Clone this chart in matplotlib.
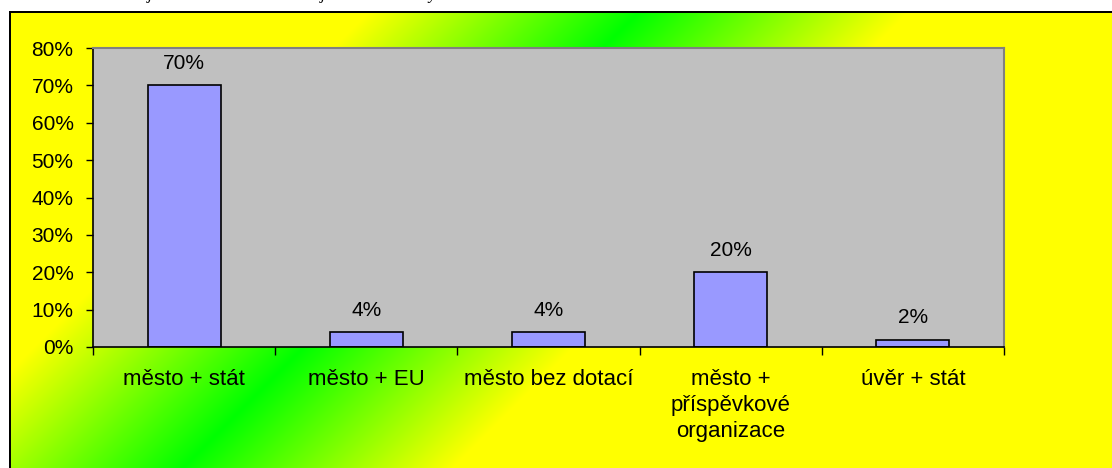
import numpy as np
import matplotlib
matplotlib.use("Agg")
import matplotlib.pyplot as plt
from matplotlib.ticker import FuncFormatter, FixedLocator

# ---- data ----
categories = ["město + stát", "město + EU", "město bez dotací",
              "město +\npříspěvkové\norganizace", "úvěr + stát"]
values = [0.70, 0.04, 0.04, 0.20, 0.02]
value_labels = ["70%", "4%", "4%", "20%", "2%"]
y_ticks = [0.0, 0.1, 0.2, 0.3, 0.4, 0.5, 0.6, 0.7, 0.8]

W, H = 1112, 468
DPI = 100
plt.rcParams['font.family'] = ['Liberation Sans', 'DejaVu Sans']

fig = plt.figure(figsize=(W / DPI, H / DPI), dpi=DPI)
fig.patch.set_facecolor('white')

# ---- background gradient (chart area) ----
yy, xx = np.mgrid[0:H, 0:W]
s = xx + yy
t = np.clip(np.abs(s - 650) / 270.0, 0, 1)
img = np.zeros((H, W, 3))
img[..., 0] = t
img[..., 1] = 1.0
img[..., 2] = 0.0
white = (xx < 9) | (yy < 11)
img[white] = 1.0
border = ((xx >= 9) & (xx < 11) & (yy >= 11)) | ((yy >= 11) & (yy < 13) & (xx >= 9))
img[border] = 0.0

bg = fig.add_axes([0, 0, 1, 1], zorder=0)
bg.imshow(img, aspect='auto', interpolation='nearest', extent=[0, W, H, 0])
bg.set_xlim(0, W)
bg.set_ylim(H, 0)
bg.axis('off')

# clipped caption text at the top (only descenders visible, as in the reference)
for ch, px in [("j", 150), ("j", 323), ("y", 432)]:
    fig.text(px / W, 1 + 1.0 / H, ch, ha='center', va='baseline',
             fontsize=12, style='italic', family='Liberation Serif', color='black')

# ---- plot area ----
left, right, top, bottom = 93, 1004, 48, 347
ax = fig.add_axes([left / W, (H - bottom) / H, (right - left) / W, (bottom - top) / H], zorder=1)
ax.set_facecolor('#C0C0C0')

x = np.arange(len(categories))
bars = ax.bar(x, values, width=0.4, color='#9999FF', edgecolor='black', linewidth=1.2, zorder=2)

for xi, v, lab in zip(x, values, value_labels):
    ax.annotate(lab, (xi, v), xytext=(0, 9), textcoords='offset points',
                ha='center', va='bottom', fontsize=15, color='black')

ax.set_xlim(-0.5, len(categories) - 0.5)
ax.set_ylim(0, 0.8)
ax.set_yticks(y_ticks)
ax.yaxis.set_major_formatter(FuncFormatter(lambda v, p: f"{v * 100:.0f}%"))
ax.tick_params(axis='y', direction='out', length=5, width=1, labelsize=15, pad=9, colors='black')

# category boundaries as major ticks, labels at centers as minor ticks
ax.xaxis.set_major_locator(FixedLocator(np.arange(len(categories) + 1) - 0.5))
ax.xaxis.set_ticklabels([])
ax.xaxis.set_minor_locator(FixedLocator(x))
ax.set_xticklabels(categories, minor=True, fontsize=16, linespacing=1.3)
ax.tick_params(axis='x', which='major', direction='out', length=5.5, width=1)
ax.tick_params(axis='x', which='minor', length=0, pad=16)

for side in ['left', 'bottom']:
    ax.spines[side].set_color('black')
    ax.spines[side].set_linewidth(1.2)
for side in ['top', 'right']:
    ax.spines[side].set_color('#808080')
    ax.spines[side].set_linewidth(1.5)

fig.savefig('out.png', dpi=DPI)
